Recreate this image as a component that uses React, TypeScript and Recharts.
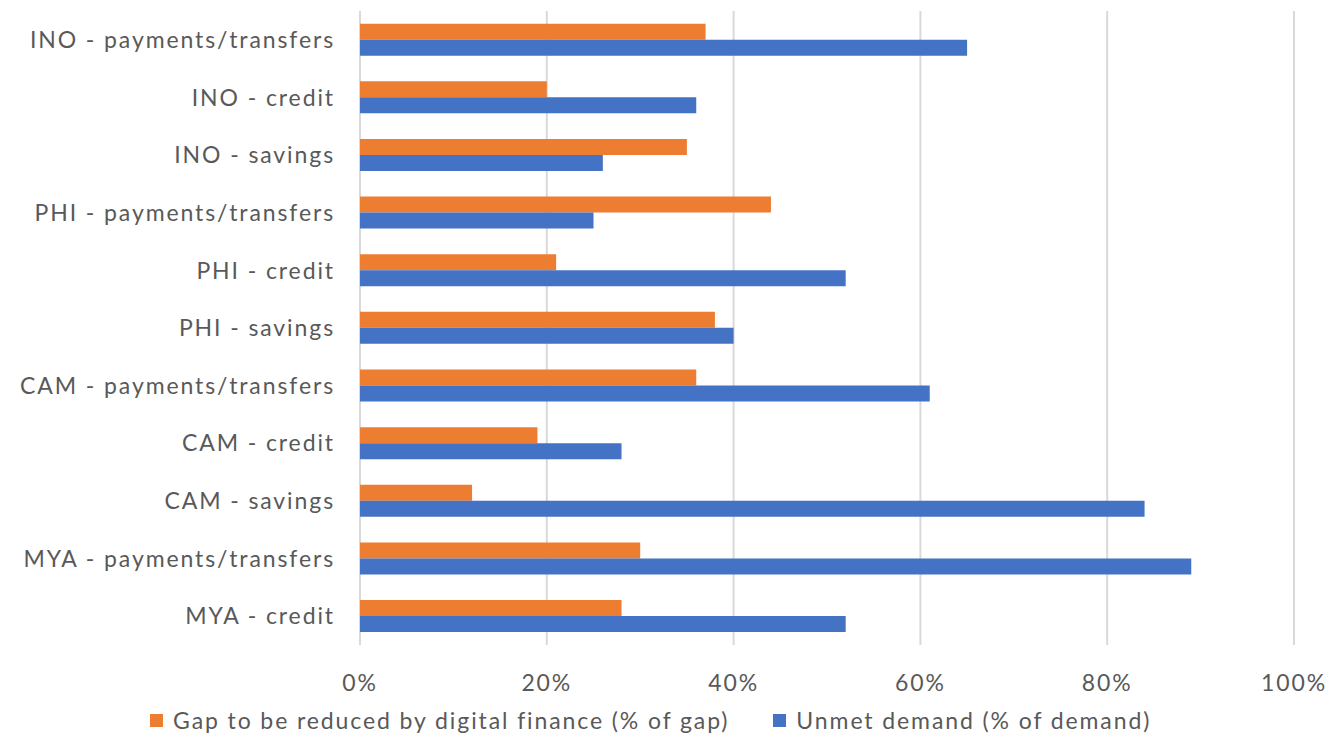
import { BarChart, Bar, XAxis, YAxis, CartesianGrid, Legend } from 'recharts';

// categories, top to bottom
const categories = [
  'INO - payments/transfers',
  'INO - credit',
  'INO - savings',
  'PHI - payments/transfers',
  'PHI - credit',
  'PHI - savings',
  'CAM - payments/transfers',
  'CAM - credit',
  'CAM - savings',
  'MYA - payments/transfers',
  'MYA - credit',
];

// values in %
const gapReduced = [37, 20, 35, 44, 21, 38, 36, 19, 12, 30, 28];
const unmetDemand = [65, 36, 26, 25, 52, 40, 61, 28, 84, 89, 52];

const xTicks = [0, 20, 40, 60, 80, 100];

const seriesNames = ['Gap to be reduced by digital finance (% of gap)', 'Unmet demand (% of demand)'];
const seriesColors = ['#ED7D31', '#4472C4'];

const chartData = categories.map((name, i) => ({
  name,
  gap: gapReduced[i],
  unmet: unmetDemand[i],
}));

const font = 'Lato, Calibri, "Open Sans", sans-serif';
const textColor = '#595959';
const fontSize = 23;
const spacing = 1.9;

const LegendBox = () => (
  <div
    style={{
      display: 'flex',
      alignItems: 'center',
      marginLeft: 150,
      fontFamily: font,
      fontSize,
      letterSpacing: spacing,
      color: textColor,
      lineHeight: '30px',
    }}
  >
    {seriesNames.map((n, i) => (
      <div key={n} style={{ display: 'flex', alignItems: 'center', marginRight: i === 0 ? 44 : 0 }}>
        <span style={{ width: 13, height: 13, background: seriesColors[i], marginRight: 10, display: 'inline-block' }} />
        <span>{n}</span>
      </div>
    ))}
  </div>
);

export default function App() {
  return (
    <div style={{ position: 'absolute', left: 0, top: 0, background: '#fff' }}>
      <BarChart
        width={1333}
        height={735}
        data={chartData}
        layout="vertical"
        margin={{ top: 11, right: 39, left: 0, bottom: 0 }}
        barCategoryGap="22%"
        barGap={0}
        style={{ fontFamily: font }}
      >
        <CartesianGrid horizontal={false} stroke="#d9d9d9" strokeWidth={2} />
        <XAxis
          type="number"
          domain={[0, 100]}
          ticks={xTicks}
          tickFormatter={(v: number) => `${v}%`}
          axisLine={false}
          tickLine={false}
          tickSize={0}
          tickMargin={30}
          height={60}
          tick={{ fill: textColor, fontSize, fontFamily: font, letterSpacing: spacing }}
        />
        <YAxis
          type="category"
          dataKey="name"
          width={360}
          axisLine={false}
          tickLine={false}
          tickSize={0}
          tickMargin={25}
          interval={0}
          tick={{ fill: textColor, fontSize, fontFamily: font, letterSpacing: spacing }}
        />
        <Legend verticalAlign="bottom" content={<LegendBox />} wrapperStyle={{ left: 0, width: 1333 }} />
        <Bar dataKey="gap" name={seriesNames[0]} fill={seriesColors[0]} isAnimationActive={false} />
        <Bar dataKey="unmet" name={seriesNames[1]} fill={seriesColors[1]} isAnimationActive={false} />
      </BarChart>
    </div>
  );
}
